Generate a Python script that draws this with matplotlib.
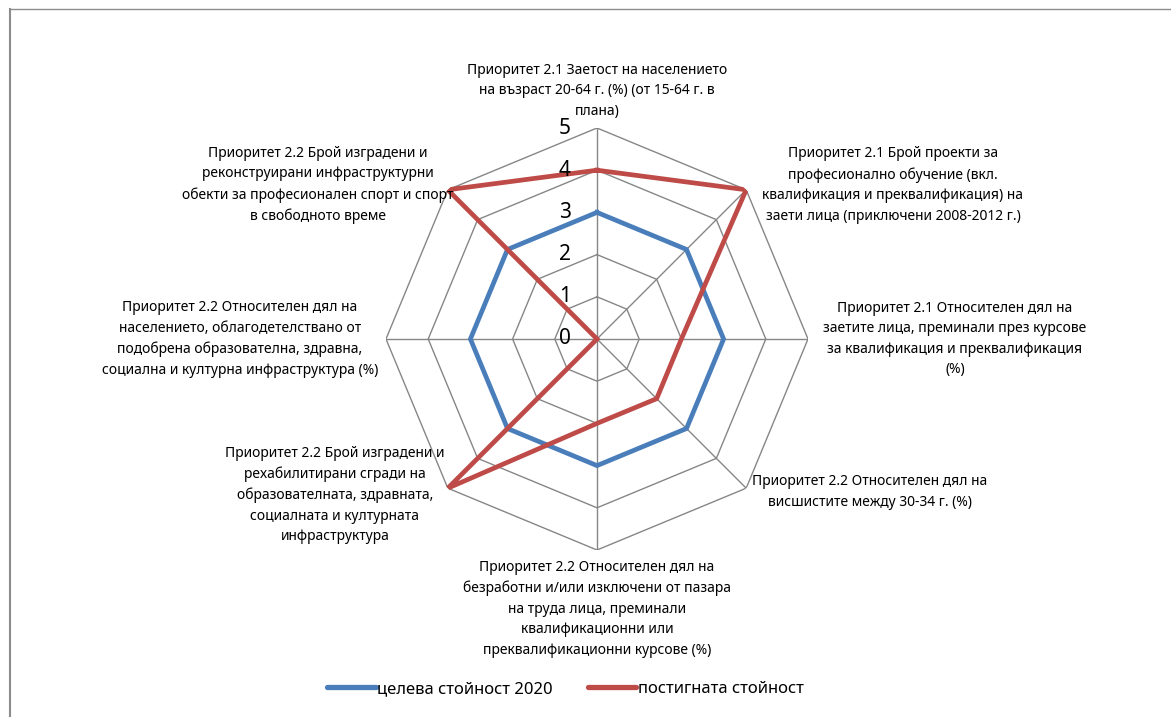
import matplotlib
matplotlib.use('Agg')
import matplotlib.pyplot as plt
from matplotlib.lines import Line2D
import numpy as np

plt.rcParams['font.family'] = ['Noto Sans', 'DejaVu Sans']

categories = [
    'Приоритет 2.1 Заетост на населението\nна възраст 20-64 г. (%) (от 15-64 г. в\nплана)',
    'Приоритет 2.1 Брой проекти за\nпрофесионално обучение (вкл.\nквалификация и преквалификация) на\nзаети лица (приключени 2008-2012 г.)',
    'Приоритет 2.1 Относителен дял на\nзаетите лица, преминали през курсове\nза квалификация и преквалификация\n(%)',
    'Приоритет 2.2 Относителен дял на\nвисшистите между 30-34 г. (%)',
    'Приоритет 2.2 Относителен дял на\nбезработни и/или изключени от пазара\nна труда лица, преминали\nквалификационни или\nпреквалификационни курсове (%)',
    'Приоритет 2.2 Брой изградени и\nрехабилитирани сгради на\nобразователната, здравната,\nсоциалната и културната\nинфраструктура',
    'Приоритет 2.2 Относителен дял на\nнаселението, облагодетелствано от\nподобрена образователна, здравна,\nсоциална и културна инфраструктура (%)',
    'Приоритет 2.2 Брой изградени и\nреконструирани инфраструктурни\nобекти за професионален спорт и спорт\nв свободното време',
]
target_2020 = [3, 3, 3, 3, 3, 3, 3, 3]
achieved = [4, 5, 2, 2, 2, 5, 0, 5]
r_ticks = [0, 1, 2, 3, 4, 5]
series_names = ['целева стойност 2020', 'постигната стойност']

# label centres in pixels (x, y from top) and alignment
label_pos = [
    (597, 91, 'center'), (893, 185, 'center'), (955, 339, 'center'),
    (752, 492, 'left'), (597, 609, 'center'), (335, 495, 'center'),
    (240, 339, 'center'), (318, 185, 'center'),
]

W, H = 1171, 717
fig = plt.figure(figsize=(W / 100, H / 100), dpi=100)
cx, cy, R = 597, 339, 211
ax = fig.add_axes([(cx - R) / W, (H - cy - R) / H, 2 * R / W, 2 * R / H],
                  projection='polar')
ax.set_theta_zero_location('N')
ax.set_theta_direction(-1)
ax.set_ylim(0, 5)
ax.set_axis_off()

n = len(categories)
theta = np.arange(n) * 2 * np.pi / n
tc = np.append(theta, theta[0])

grid_col = '#868686'
for r in r_ticks[1:]:
    ax.plot(tc, [r] * (n + 1), color=grid_col, lw=1.0, zorder=1)
for t in theta:
    ax.plot([t, t], [0, r_ticks[-1]], color=grid_col, lw=1.0, zorder=1)

for r in r_ticks:
    ax.annotate(str(r), xy=(0, r), xytext=(-23, 0), textcoords='offset points',
                ha='center', va='center', fontsize=15, zorder=5)

blue = '#4A7EBB'
red = '#BE4B48'
ax.plot(tc, target_2020 + target_2020[:1], color=blue, lw=3.4,
        solid_joinstyle='miter', zorder=3, label=series_names[0])
ax.plot(tc, achieved + achieved[:1], color=red, lw=3.4,
        solid_joinstyle='miter', zorder=4, label=series_names[1])

for text, (x, y, ha) in zip(categories, label_pos):
    fig.text(x / W, 1 - y / H, text, ha=ha, va='center', multialignment='center',
             fontsize=10, linespacing=1.5)

leg = fig.legend(loc='center', bbox_to_anchor=(0.483, 1 - 689 / H), ncol=2,
                 frameon=False, fontsize=12, handlelength=2.9, handletextpad=0.1,
                 columnspacing=2.1)
for h in leg.get_lines():
    h.set_linewidth(3.8)
    h.set_solid_capstyle('round')

# chart frame (left and top edges visible)
fig.add_artist(Line2D([10 / W, 10 / W], [0, 1 - 9 / H], color='#8c8c8c',
                      lw=1.5, transform=fig.transFigure))
fig.add_artist(Line2D([10 / W, 1], [1 - 9 / H, 1 - 9 / H], color='#8c8c8c',
                      lw=1.0, transform=fig.transFigure))

fig.savefig('out.png', dpi=100)
